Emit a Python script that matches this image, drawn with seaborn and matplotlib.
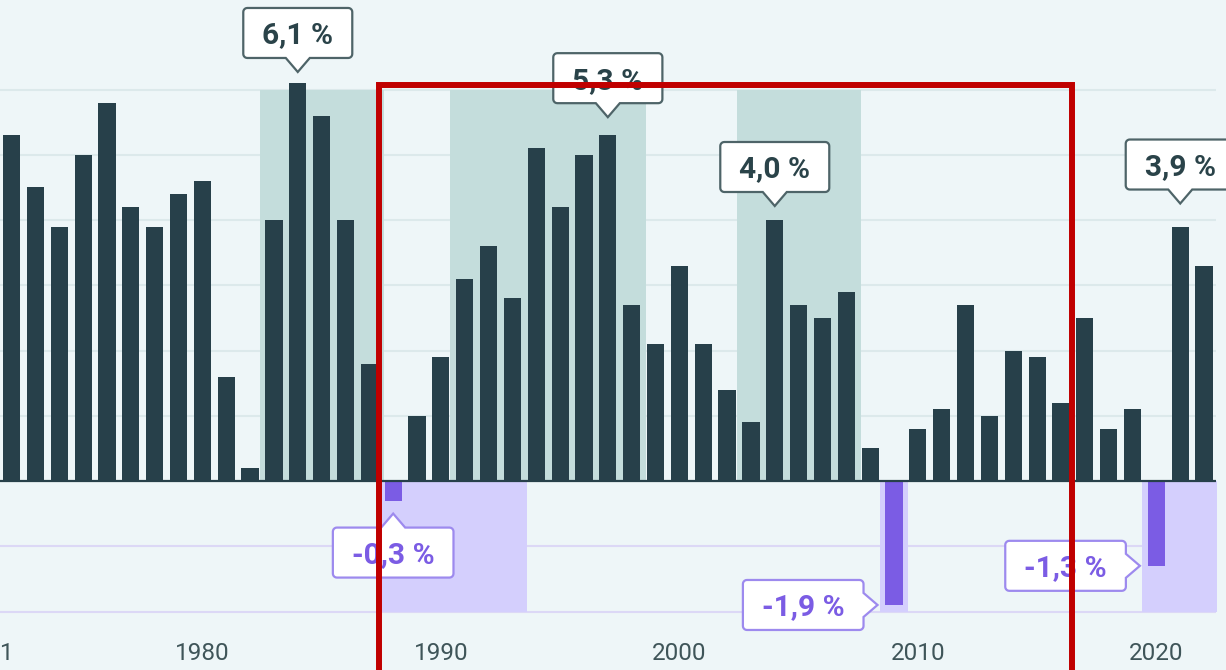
import numpy as np
import pandas as pd
import matplotlib
matplotlib.use('Agg')
import matplotlib.pyplot as plt
import seaborn as sns
from matplotlib.patches import Polygon, Rectangle
from matplotlib.transforms import IdentityTransform

years = list(range(1971, 2023))
growth = [4.5, 5.3, 4.5, 3.9, 5.0, 5.8, 4.2, 3.9, 4.4, 4.6,
          1.6, 0.2, 4.0, 6.1, 5.6, 4.0, 1.8, -0.3, 1.0, 1.9,
          3.1, 3.6, 2.8, 5.1, 4.2, 5.0, 5.3, 2.7, 2.1, 3.3,
          2.1, 1.4, 0.9, 4.0, 2.7, 2.5, 2.9, 0.5, -1.9, 0.8,
          1.1, 2.7, 1.0, 2.0, 1.9, 1.2, 2.5, 0.8, 1.1, -1.3,
          3.9, 3.3]

green_spans = [(1983, 1987), (1991, 1998), (2003, 2007)]
purple_spans = [(1988, 1993), (2009, 2009), (2020, 2022)]

label_years = [1984, 1997, 2004, 2021, 1988, 2009, 2020]
label_sides = ['bottom', 'bottom', 'bottom', 'bottom', 'top', 'right', 'right']
label_gaps = [11, 18, 14, 23, 13, 16.5, 16.5]  # px between bar end and pointer tip

tick_years = [1971, 1980, 1990, 2000, 2010, 2020]

BG = '#eef6f8'
DARK = '#27404a'
PURPLE = '#7b5ce4'
GREEN_SHADE = '#c4dddc'
PURPLE_SHADE = '#d4cffd'

df = pd.DataFrame({'year': years, 'growth': growth})
df['kind'] = np.where(df['growth'] < 0, 'neg', 'pos')

sns.set_style('white')
plt.rcParams['font.family'] = ['Roboto', 'DejaVu Sans']

W, H = 1226, 670
PX_YEAR = 23.85
x0, x1 = 1970.5, 2022.5
# the picture is cropped: the plot starts a little left of the image edge
left_px = 1216 - (x1 - x0) * PX_YEAR
fig = plt.figure(figsize=(W / 100, H / 100), dpi=100, facecolor=BG)
ax = fig.add_axes([left_px / W, 45 / H, (x1 - x0) * PX_YEAR / W, 625 / H])
ax.set_facecolor(BG)

# grid lines
for lvl in range(-2, 7):
    if lvl == 0:
        continue
    ax.axhline(lvl, color='#dce9eb' if lvl > 0 else '#dcd8f6', lw=1.5, zorder=0)

for a, b in green_spans:
    ax.fill_between([a - 0.6, b + 0.6], 0, 6, color=GREEN_SHADE, lw=0, zorder=1)
for a, b in purple_spans:
    ax.fill_between([a - 0.6, b + 0.6], -2, 0, color=PURPLE_SHADE, lw=0, zorder=1)

sns.barplot(data=df, x='year', y='growth', hue='kind', native_scale=True,
            palette={'pos': DARK, 'neg': PURPLE}, dodge=False, width=0.72,
            saturation=1, errorbar=None, legend=False, ax=ax, zorder=2, linewidth=0)

ax.axhline(0, color=DARK, lw=1.6, zorder=3)

ax.set_xticks(tick_years)
ax.set_xticklabels([str(y) for y in tick_years])
ax.set_yticks([])
ax.set_xlim(x0, x1)
ax.set_ylim(-(625 - 481) / 65.25, 481 / 65.25)
ax.set_xlabel('')
ax.set_ylabel('')
ax.tick_params(axis='x', length=0, pad=12, labelsize=17.5, labelcolor='#3f5559')
for s in ax.spines.values():
    s.set_visible(False)


def callout(year, val, side, gap):
    neg = val < 0
    ec = '#9d8aee' if neg else '#4e6468'
    tc = PURPLE if neg else '#2a4349'
    txt = f"{val:.1f}".replace('.', ',') + ' %'
    bx, by = ax.transData.transform((year, val))
    t = fig.text(0, 0, txt, fontsize=21.5, fontweight='bold', color=tc,
                 ha='center', va='baseline', transform=IdentityTransform(), zorder=6)
    tw = t.get_window_extent(fig.canvas.get_renderer()).width
    w, h, r, hw, ph = tw + 38, 50, 4, 12, 14
    if side == 'bottom':
        tip = (bx, by + gap)
        cx, cy = bx, tip[1] + ph + h / 2
    elif side == 'top':
        tip = (bx, by - gap)
        cx, cy = bx, tip[1] - ph - h / 2
    else:
        tip = (bx - gap, by)
        cx, cy = tip[0] - ph - w / 2, by
    L, R, B, T = cx - w / 2, cx + w / 2, cy - h / 2, cy + h / 2
    pts = []

    def arc(xc, yc, a0, a1):
        for a in np.radians(np.linspace(a0, a1, 6)):
            pts.append((xc + r * np.cos(a), yc + r * np.sin(a)))

    arc(L + r, B + r, 180, 270)
    if side == 'bottom':
        pts.extend([(tip[0] - hw, B), tip, (tip[0] + hw, B)])
    arc(R - r, B + r, 270, 360)
    if side == 'right':
        pts.extend([(R, tip[1] - hw), tip, (R, tip[1] + hw)])
    arc(R - r, T - r, 0, 90)
    if side == 'top':
        pts.extend([(tip[0] + hw, T), tip, (tip[0] - hw, T)])
    arc(L + r, T - r, 90, 180)
    fig.add_artist(Polygon(pts, closed=True, fc='white', ec=ec, lw=1.6,
                           transform=IdentityTransform(), zorder=5))
    t.set_position((cx, cy - 10.5))


for yr, side, gap in zip(label_years, label_sides, label_gaps):
    callout(yr, growth[years.index(yr)], side, gap)

fig.add_artist(Rectangle((378.5, -20), 1072 - 378.5, H - 84.7 + 20, fill=False,
                         ec='#c00000', lw=4.3, transform=IdentityTransform(), zorder=10))

fig.savefig('out.png', dpi=100, facecolor=BG)
